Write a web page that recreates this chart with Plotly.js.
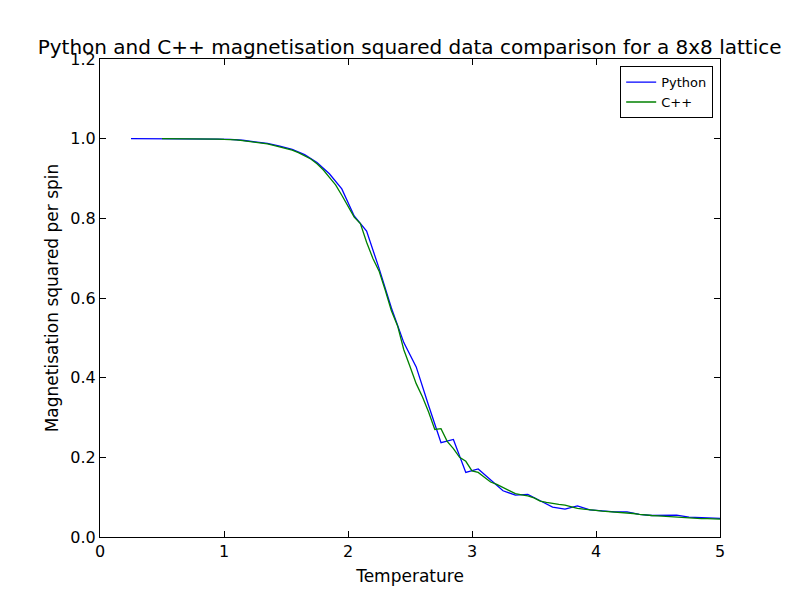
<!DOCTYPE html>
<html>
<head>
<meta charset="utf-8">
<script src="https://cdn.plot.ly/plotly-3.0.1.min.js"></script>
<style>html,body{margin:0;padding:0;background:#fff;}#chart{width:800px;height:597px;}</style>
</head>
<body>
<div id="chart"></div>
<script>
var pyT = [0.25,0.35,0.45,0.55,0.65,0.75,0.85,0.95,1.05,1.15,1.25,1.35,1.45,1.55,1.65,1.75,1.85,1.95,2.05,2.15,2.25,2.35,2.45,2.55,2.65,2.75,2.85,2.95,3.05,3.15,3.25,3.35,3.45,3.55,3.65,3.75,3.85,3.95,4.05,4.15,4.25,4.35,4.45,4.55,4.65,4.75,4.85,4.95,5.05];
var pyM = [1.000,1.000,1.000,1.000,1.000,1.000,1.000,0.999,0.998,0.996,0.992,0.988,0.981,0.973,0.960,0.940,0.912,0.874,0.806,0.768,0.675,0.575,0.488,0.427,0.330,0.237,0.245,0.162,0.171,0.143,0.116,0.105,0.107,0.091,0.075,0.070,0.078,0.068,0.065,0.063,0.063,0.057,0.054,0.054,0.055,0.050,0.049,0.047,0.046];

var cT = [0.50,0.55,0.60,0.65,0.70,0.75,0.80,0.85,0.90,0.95,1.00,1.05,1.10,1.15,1.20,1.25,1.30,1.35,1.40,1.45,1.50,1.55,1.60,1.65,1.70,1.75,1.80,1.85,1.90,1.95,2.00,2.05,2.10,2.15,2.20,2.25,2.30,2.35,2.40,2.45,2.50,2.55,2.60,2.65,2.70,2.75,2.80,2.85,2.90,2.95,3.00,3.05,3.10,3.15,3.20,3.25,3.30,3.35,3.40,3.45,3.50,3.55,3.60,3.65,3.70,3.75,3.80,3.85,3.90,3.95,4.00,4.05,4.10,4.15,4.20,4.25,4.30,4.35,4.40,4.45,4.50,4.55,4.60,4.65,4.70,4.75,4.80,4.85,4.90,4.95,5.00];
var cM = [1.000,1.000,1.000,1.000,1.000,1.000,1.000,1.000,0.999,0.999,0.998,0.998,0.997,0.995,0.993,0.991,0.989,0.987,0.983,0.979,0.975,0.971,0.965,0.957,0.949,0.937,0.922,0.903,0.884,0.858,0.831,0.803,0.787,0.740,0.700,0.668,0.620,0.568,0.530,0.470,0.428,0.385,0.352,0.314,0.270,0.272,0.240,0.222,0.200,0.190,0.166,0.162,0.150,0.138,0.132,0.124,0.115,0.109,0.106,0.103,0.098,0.090,0.087,0.084,0.082,0.080,0.076,0.072,0.070,0.069,0.067,0.065,0.064,0.062,0.061,0.060,0.059,0.057,0.055,0.054,0.053,0.052,0.051,0.050,0.048,0.047,0.047,0.046,0.046,0.046,0.045];

var xTicks = [0,1,2,3,4,5];
var yTicks = [0.0,0.2,0.4,0.6,0.8,1.0,1.2];
var yTickText = ['0.0','0.2','0.4','0.6','0.8','1.0','1.2'];

var font = 'DejaVu Sans, sans-serif';
var data = [
  {x: pyT, y: pyM, mode: 'lines', name: 'Python', line: {color: '#0000ff', width: 1.3}},
  {x: cT, y: cM, mode: 'lines', name: 'C++', line: {color: '#008000', width: 1.3}}
];
var axisCommon = {
  showgrid: false, zeroline: false, showline: true, linecolor: '#000', linewidth: 1,
  mirror: 'allticks', ticks: 'inside', ticklen: 6, tickwidth: 1, tickcolor: '#000',
  tickfont: {family: font, size: 16, color: '#000'}
};
var layout = {
  width: 800, height: 597,
  paper_bgcolor: '#fff', plot_bgcolor: '#fff',
  margin: {l: 100, r: 80, t: 59, b: 60},
  title: {text: 'Python and C++ magnetisation squared data comparison for a 8x8 lattice',
          font: {family: font, size: 20, color: '#000'}, x: 0.512, xanchor: 'center', y: 0.921, yanchor: 'middle'},
  xaxis: Object.assign({}, axisCommon, {range: [0, 5], tickvals: xTicks, ticktext: xTicks.map(String),
          title: {text: 'Temperature', font: {family: font, size: 17, color: '#000'}, standoff: 9}}),
  yaxis: Object.assign({}, axisCommon, {range: [0, 1.2], tickvals: yTicks, ticktext: yTickText,
          title: {text: 'Magnetisation squared per spin', font: {family: font, size: 17, color: '#000'}, standoff: 7}}),
  showlegend: true,
  legend: {x: 0.989, xanchor: 'right', y: 0.985, yanchor: 'top', bordercolor: '#000', borderwidth: 1,
           bgcolor: '#fff', font: {family: font, size: 13, color: '#000'}, tracegroupgap: 0}
};
Plotly.newPlot('chart', data, layout, {displayModeBar: false, staticPlot: true});
</script>
</body>
</html>
